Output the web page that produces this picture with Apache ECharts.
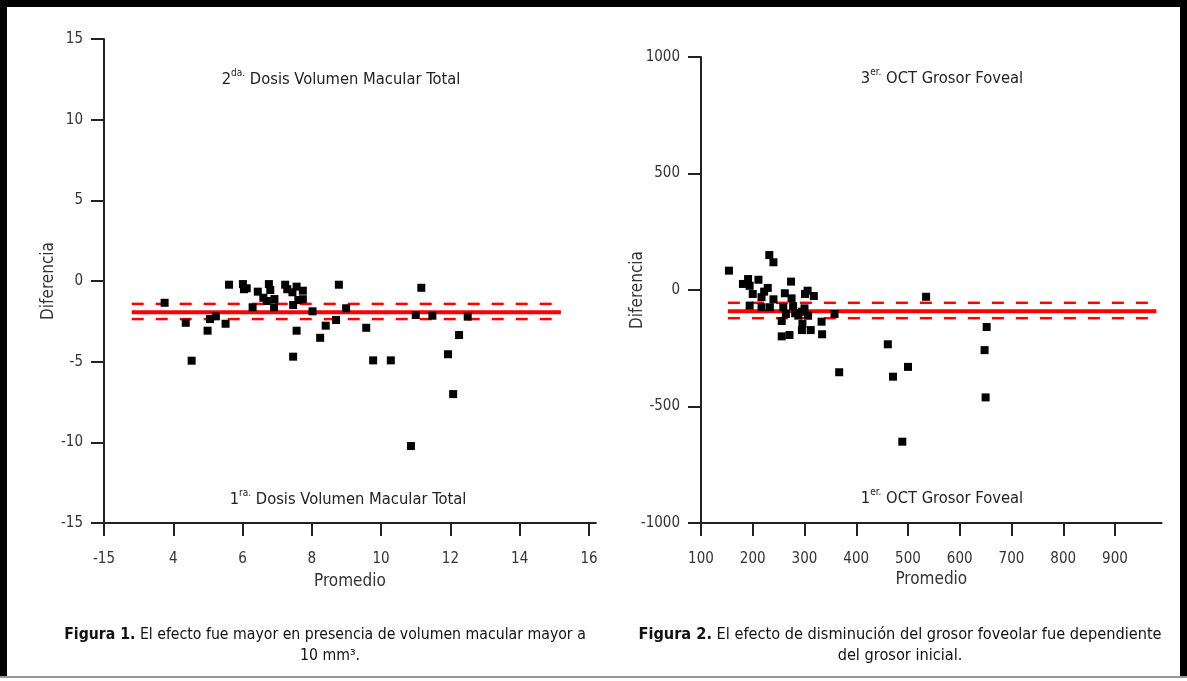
<!DOCTYPE html>
<html><head><meta charset="utf-8">
<script src="https://cdn.jsdelivr.net/npm/echarts@6/dist/echarts.min.js"></script>
<style>html,body{margin:0;padding:0;background:#fff}#c{width:1187px;height:681px}</style>
</head><body><div id="c"></div>
<script>
// ---------- DATA ----------
// Figura 1: Volumen macular total (Bland-Altman)
const leftPromedio = [3.75,4.36,4.53,4.99,5.06,5.23,5.51,5.61,6.01,6.04,6.12,6.29,6.44,6.60,6.76,6.80,6.70,6.92,6.91,7.23,7.29,7.44,7.56,7.74,7.61,7.74,7.46,8.02,7.56,7.46,8.24,8.40,8.78,8.99,8.70,9.57,9.77,10.28,10.86,11.16,11.00,11.48,12.25,11.93,12.08,12.50];
const leftDiferencia = [-1.35,-2.59,-4.94,-3.08,-2.36,-2.19,-2.65,-0.23,-0.19,-0.51,-0.45,-1.63,-0.66,-1.04,-0.19,-0.56,-1.24,-1.12,-1.63,-0.23,-0.51,-0.70,-0.35,-0.60,-1.18,-1.13,-1.49,-1.88,-3.08,-4.69,-3.52,-2.77,-0.23,-1.69,-2.42,-2.90,-4.92,-4.92,-10.23,-0.42,-2.11,-2.15,-3.35,-4.54,-7.01,-2.21];
const leftMean = -1.94, leftUpper = -1.42, leftLower = -2.36;
const leftLineRange = [2.8, 15.19];
const leftXTicks = [2,4,6,8,10,12,14,16];
const leftXTickLabels = ['-15','4','6','8','10','12','14','16'];

// Figura 2: Grosor foveal (Bland-Altman)
const rightPromedio = [154,232,240,181,191,194,211,229,222,200,217,240,262,274,275,306,301,318,194,217,233,259,278,264,282,295,307,256,296,333,358,295,312,334,256,271,300,288,535,652,461,648,367,500,471,650,489];
const rightDiferencia = [83,150,119,26,47,18,44,9,-7,-17,-31,-40,-14,36,-36,-3,-17,-26,-67,-74,-74,-74,-69,-103,-100,-93,-110,-133,-146,-136,-103,-172,-172,-190,-199,-193,-79,-110,-29,-159,-233,-258,-353,-330,-372,-461,-651];
const rightMean = -91, rightUpper = -55, rightLower = -121;
const rightLineRange = [152, 980];
const rightXTicks = [100,200,300,400,500,600,700,800,900];

// ---------- CHART ----------
const FONT = '"Liberation Sans Narrow","DejaVu Sans Condensed","Roboto Condensed","Liberation Sans",sans-serif';
const AX = '#222', LBL = '#333';
const zip = (a,b) => a.map((v,i)=>[v,b[i]]);
const hline = (range, y) => [[range[0], y],[range[1], y]];

function axisCommon() {
  return {
    axisLine: {show:true, onZero:false, lineStyle:{color:AX, width:2}},
    axisTick: {show:true, inside:false, length:13, lineStyle:{color:AX, width:2}},
    splitLine: {show:false},
    nameMoveOverlap: false,
    nameTextStyle: {fontFamily:FONT, fontSize:17, color:LBL},
  };
}

const chart = echarts.init(document.getElementById('c'), null, {renderer:'canvas'});
const lx = axisCommon(), ly = axisCommon(), rx = axisCommon(), ry = axisCommon();

const option = {
  backgroundColor:'#fff',
  animation:false,
  grid:[
    {left:104, top:39, width:(16.2-2)*34.64, height:484},
    {left:701, top:57, width:(990-100)*0.5175, height:466}
  ],
  xAxis:[
    Object.assign(lx, {gridIndex:0, type:'value', min:2, max:16.2, name:'Promedio', nameLocation:'middle', nameGap:50,
      axisTick:Object.assign(lx.axisTick,{customValues:leftXTicks}),
      axisLabel:{customValues:leftXTicks, margin:29, fontFamily:FONT, fontSize:15, color:LBL,
        formatter:v=>{const i=leftXTicks.indexOf(v);return i>=0?leftXTickLabels[i]:'';}}}),
    Object.assign(rx, {gridIndex:1, type:'value', min:100, max:990, name:'Promedio', nameLocation:'middle', nameGap:48,
      axisTick:Object.assign(rx.axisTick,{customValues:rightXTicks}),
      axisLabel:{customValues:rightXTicks, margin:29, fontFamily:FONT, fontSize:15, color:LBL, formatter:v=>String(v)}})
  ],
  yAxis:[
    Object.assign(ly, {gridIndex:0, type:'value', min:-15, max:15, interval:5, name:'Diferencia', nameLocation:'middle', nameGap:47,
      axisLabel:{margin:21, fontFamily:FONT, fontSize:15, color:LBL, formatter:v=>String(v)}}),
    Object.assign(ry, {gridIndex:1, type:'value', min:-1000, max:1000, interval:500, name:'Diferencia', nameLocation:'middle', nameGap:55,
      axisLabel:{margin:21, fontFamily:FONT, fontSize:15, color:LBL, formatter:v=>String(v)}})
  ],
  series:[
    {type:'line', xAxisIndex:0, yAxisIndex:0, data:hline(leftLineRange,leftMean), showSymbol:false, symbol:'none', lineStyle:{color:'#ff0000', width:4}, z:2},
    {type:'line', xAxisIndex:0, yAxisIndex:0, data:hline(leftLineRange,leftUpper), showSymbol:false, symbol:'none', lineStyle:{color:'#ff0000', width:2.5, type:[12,12]}, z:2},
    {type:'line', xAxisIndex:0, yAxisIndex:0, data:hline(leftLineRange,leftLower), showSymbol:false, symbol:'none', lineStyle:{color:'#ff0000', width:2.5, type:[12,12]}, z:2},
    {type:'scatter', xAxisIndex:0, yAxisIndex:0, data:zip(leftPromedio,leftDiferencia), symbol:'rect', symbolSize:8, itemStyle:{color:'#000', opacity:1}, z:5},
    {type:'line', xAxisIndex:1, yAxisIndex:1, data:hline(rightLineRange,rightMean), showSymbol:false, symbol:'none', lineStyle:{color:'#ff0000', width:4}, z:2},
    {type:'line', xAxisIndex:1, yAxisIndex:1, data:hline(rightLineRange,rightUpper), showSymbol:false, symbol:'none', lineStyle:{color:'#ff0000', width:2.5, type:[12,12]}, z:2},
    {type:'line', xAxisIndex:1, yAxisIndex:1, data:hline(rightLineRange,rightLower), showSymbol:false, symbol:'none', lineStyle:{color:'#ff0000', width:2.5, type:[12,12]}, z:2},
    {type:'scatter', xAxisIndex:1, yAxisIndex:1, data:zip(rightPromedio,rightDiferencia), symbol:'rect', symbolSize:8, itemStyle:{color:'#000', opacity:1}, z:5}
  ],
  graphic:[]
};

const richAnn = {
  n:{fontSize:16.4, fontFamily:FONT, fill:'#222', lineHeight:20, verticalAlign:'bottom'},
  s:{fontSize:10, fontFamily:FONT, fill:'#222', lineHeight:20, verticalAlign:'top'}
};
function ann(x, y, num, sup, rest) {
  return {type:'text', x:x, y:y, z:50, style:{text:'{n|'+num+'}{s|'+sup+'}{n| '+rest+'}', rich:richAnn, align:'center', verticalAlign:'middle', fontFamily:FONT}};
}
function richCap(fs) {
  return {
    b:{fontSize:fs, fontFamily:FONT, fill:'#111', fontWeight:'bold', lineHeight:20},
    r:{fontSize:fs, fontFamily:FONT, fill:'#111', lineHeight:20}
  };
}
function cap(x, y, text, fs) {
  return {type:'text', x:x, y:y, z:50, style:{text:text, rich:richCap(fs), align:'center', verticalAlign:'middle', fontFamily:FONT}};
}
option.graphic = [
  {type:'rect', shape:{x:0,y:0,width:1187,height:7}, style:{fill:'#000'}, z:100},
  {type:'rect', shape:{x:0,y:0,width:7,height:678}, style:{fill:'#000'}, z:100},
  {type:'rect', shape:{x:1180,y:0,width:7,height:678}, style:{fill:'#000'}, z:100},
  {type:'rect', shape:{x:0,y:676,width:1187,height:2}, style:{fill:'#999'}, z:100},
  ann(341, 78, '2', 'da.', 'Dosis Volumen Macular Total'),
  ann(348, 498, '1', 'ra.', 'Dosis Volumen Macular Total'),
  ann(942, 77, '3', 'er.', 'OCT Grosor Foveal'),
  ann(942, 497, '1', 'er.', 'OCT Grosor Foveal'),
  cap(325, 635, '{b|Figura 1.}{r| El efecto fue mayor en presencia de volumen macular mayor a}', 15.7),
  cap(330, 656, '{r|10 mm³.}', 15.7),
  cap(900, 635, '{b|Figura 2.}{r| El efecto de disminución del grosor foveolar fue dependiente}', 16.2),
  cap(900, 656, '{r|del grosor inicial.}', 16.2)
];
chart.setOption(option);
</script></body></html>
